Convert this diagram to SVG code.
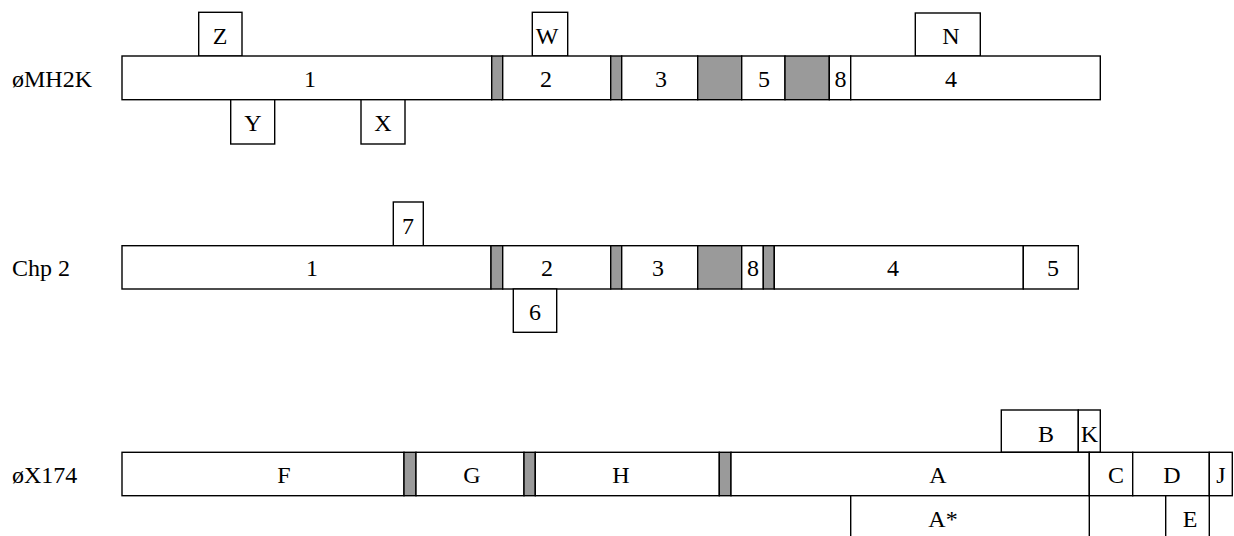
<svg xmlns="http://www.w3.org/2000/svg" width="1234" height="536" viewBox="0 0 1234 536">
<style>
.b{fill:#fff;stroke:#000;stroke-width:1.4}
.s{fill:#9a9a9a;stroke:#000;stroke-width:1.4}
.l{fill:none;stroke:#000;stroke-width:1.4}
text{font-family:"Liberation Serif","Times New Roman",serif;font-size:24px;fill:#000}
.c{text-anchor:middle}
</style>
<rect width="1234" height="536" fill="#fff"/>
<!-- Row 1 -->
<g id="row1">
<text x="12" y="87">øMH2K</text>
<g id="r1-Z"><rect class="b" x="198.7" y="12.3" width="43.3" height="43.7"/><text class="c" x="220" y="44">Z</text></g>
<g id="r1-W"><rect class="b" x="532.3" y="12.3" width="35.4" height="43.7"/><text class="c" x="547" y="44">W</text></g>
<g id="r1-N"><rect class="b" x="915.3" y="13" width="65" height="43"/><text class="c" x="951" y="44">N</text></g>
<g id="r1-1"><rect class="b" x="122" y="56" width="369.7" height="43.7"/><text class="c" x="310" y="87">1</text></g>
<rect class="s" x="491.7" y="56" width="11" height="43.7"/>
<g id="r1-2"><rect class="b" x="502.7" y="56" width="108" height="43.7"/><text class="c" x="546" y="87">2</text></g>
<rect class="s" x="610.7" y="56" width="11" height="43.7"/>
<g id="r1-3"><rect class="b" x="621.7" y="56" width="76" height="43.7"/><text class="c" x="661" y="87">3</text></g>
<rect class="s" x="697.7" y="56" width="44" height="43.7"/>
<g id="r1-5"><rect class="b" x="741.7" y="56" width="43.3" height="43.7"/><text class="c" x="764" y="87">5</text></g>
<rect class="s" x="785" y="56" width="44.3" height="43.7"/>
<g id="r1-8"><rect class="b" x="829.3" y="56" width="21.4" height="43.7"/><text class="c" x="840.5" y="87">8</text></g>
<g id="r1-4"><rect class="b" x="850.7" y="56" width="249.6" height="43.7"/><text class="c" x="951" y="87">4</text></g>
<g id="r1-Y"><rect class="b" x="230.7" y="99.7" width="44" height="44.3"/><text class="c" x="253" y="131">Y</text></g>
<g id="r1-X"><rect class="b" x="361" y="99.7" width="44" height="44.3"/><text class="c" x="383" y="131">X</text></g>
</g>
<!-- Row 2 -->
<g id="row2">
<text x="12" y="276">Chp 2</text>
<g id="r2-7"><rect class="b" x="393.3" y="202" width="30" height="43.7"/><text class="c" x="408" y="234">7</text></g>
<g id="r2-1"><rect class="b" x="122" y="245.7" width="369" height="43.3"/><text class="c" x="312" y="276">1</text></g>
<rect class="s" x="491" y="245.7" width="11.7" height="43.3"/>
<g id="r2-2"><rect class="b" x="502.7" y="245.7" width="108" height="43.3"/><text class="c" x="547" y="276">2</text></g>
<rect class="s" x="610.7" y="245.7" width="11" height="43.3"/>
<g id="r2-3"><rect class="b" x="621.7" y="245.7" width="76" height="43.3"/><text class="c" x="658" y="276">3</text></g>
<rect class="s" x="697.7" y="245.7" width="44" height="43.3"/>
<g id="r2-8"><rect class="b" x="741.7" y="245.7" width="21.6" height="43.3"/><text class="c" x="753" y="276">8</text></g>
<rect class="s" x="763.3" y="245.7" width="11" height="43.3"/>
<g id="r2-4"><rect class="b" x="774.3" y="245.7" width="249" height="43.3"/><text class="c" x="893" y="276">4</text></g>
<g id="r2-5"><rect class="b" x="1023.3" y="245.7" width="55" height="43.3"/><text class="c" x="1053" y="276">5</text></g>
<g id="r2-6"><rect class="b" x="513.3" y="289" width="43.4" height="43.3"/><text class="c" x="535" y="320">6</text></g>
</g>
<!-- Row 3 -->
<g id="row3">
<text x="12" y="483">øX174</text>
<g id="r3-B"><rect class="b" x="1001.3" y="410" width="77" height="42.3"/><text class="c" x="1046" y="442">B</text></g>
<g id="r3-K"><rect class="b" x="1078.3" y="410" width="22" height="42.3"/><text class="c" x="1089.5" y="442">K</text></g>
<g id="r3-F"><rect class="b" x="122" y="452.3" width="282" height="43.4"/><text class="c" x="284" y="483">F</text></g>
<rect class="s" x="404" y="452.3" width="12" height="43.4"/>
<g id="r3-G"><rect class="b" x="416" y="452.3" width="108" height="43.4"/><text class="c" x="472" y="483">G</text></g>
<rect class="s" x="524" y="452.3" width="11.3" height="43.4"/>
<g id="r3-H"><rect class="b" x="535.3" y="452.3" width="184" height="43.4"/><text class="c" x="621" y="483">H</text></g>
<rect class="s" x="719.3" y="452.3" width="11.7" height="43.4"/>
<g id="r3-A"><rect class="b" x="731" y="452.3" width="358.3" height="43.4"/><text class="c" x="938" y="483">A</text></g>
<g id="r3-C"><rect class="b" x="1089.3" y="452.3" width="43.4" height="43.4"/><text class="c" x="1116" y="483">C</text></g>
<g id="r3-D"><rect class="b" x="1132.7" y="452.3" width="76.6" height="43.4"/><text class="c" x="1172" y="483">D</text></g>
<g id="r3-J"><rect class="b" x="1209.3" y="452.3" width="23" height="43.4"/><text class="c" x="1221" y="483">J</text></g>
<g id="r3-Astar"><path class="l" d="M850.7 495.7V537M1089.3 495.7V537"/><text class="c" x="943" y="527">A*</text></g>
<g id="r3-E"><path class="l" d="M1165.7 495.7V537M1209.3 495.7V537"/><text class="c" x="1190" y="527">E</text></g>
</g>
</svg>
